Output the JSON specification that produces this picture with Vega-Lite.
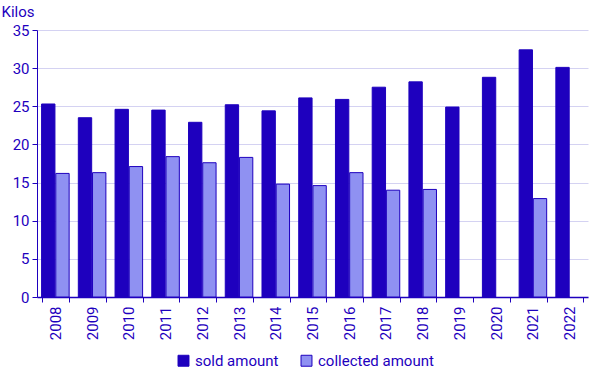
{
  "$schema": "https://vega.github.io/schema/vega-lite/v6.json",
  "width": 605,
  "height": 378,
  "autosize": {"type": "fit", "contains": "padding"},
  "padding": {"left": 1, "top": 4, "right": 17, "bottom": 38},
  "config": {
    "font": "Roboto",
    "view": {"stroke": null},
    "axis": {
      "labelColor": "#1e00be",
      "titleColor": "#1e00be",
      "domainColor": "#1e00be",
      "tickColor": "#1e00be",
      "labelFontSize": 15,
      "labelFont": "Roboto",
      "gridColor": "#d4d2f2",
      "gridWidth": 1
    }
  },
  "data": {
    "values": [
      {"year": "2008", "series": "sold amount", "value": 25.3},
      {"year": "2008", "series": "collected amount", "value": 16.2},
      {"year": "2009", "series": "sold amount", "value": 23.5},
      {"year": "2009", "series": "collected amount", "value": 16.3},
      {"year": "2010", "series": "sold amount", "value": 24.6},
      {"year": "2010", "series": "collected amount", "value": 17.1},
      {"year": "2011", "series": "sold amount", "value": 24.5},
      {"year": "2011", "series": "collected amount", "value": 18.4},
      {"year": "2012", "series": "sold amount", "value": 22.9},
      {"year": "2012", "series": "collected amount", "value": 17.6},
      {"year": "2013", "series": "sold amount", "value": 25.2},
      {"year": "2013", "series": "collected amount", "value": 18.3},
      {"year": "2014", "series": "sold amount", "value": 24.4},
      {"year": "2014", "series": "collected amount", "value": 14.8},
      {"year": "2015", "series": "sold amount", "value": 26.1},
      {"year": "2015", "series": "collected amount", "value": 14.6},
      {"year": "2016", "series": "sold amount", "value": 25.9},
      {"year": "2016", "series": "collected amount", "value": 16.3},
      {"year": "2017", "series": "sold amount", "value": 27.5},
      {"year": "2017", "series": "collected amount", "value": 14.0},
      {"year": "2018", "series": "sold amount", "value": 28.2},
      {"year": "2018", "series": "collected amount", "value": 14.1},
      {"year": "2019", "series": "sold amount", "value": 24.9},
      {"year": "2019", "series": "collected amount", "value": null},
      {"year": "2020", "series": "sold amount", "value": 28.8},
      {"year": "2020", "series": "collected amount", "value": null},
      {"year": "2021", "series": "sold amount", "value": 32.4},
      {"year": "2021", "series": "collected amount", "value": 12.9},
      {"year": "2022", "series": "sold amount", "value": 30.1},
      {"year": "2022", "series": "collected amount", "value": null}
    ]
  },
  "mark": {"type": "bar", "stroke": "#1e00be", "strokeWidth": 1},
  "encoding": {
    "x": {
      "field": "year",
      "type": "nominal",
      "scale": {"paddingInner": 0.25, "paddingOuter": 0.125},
      "axis": {
        "title": null,
        "labelAngle": -90,
        "labelAlign": "right",
        "labelBaseline": "middle",
        "tickBand": "extent",
        "tickSize": 5,
        "labelPadding": 4,
        "domainWidth": 1.5
      }
    },
    "xOffset": {
      "field": "series",
      "sort": ["sold amount", "collected amount"],
      "scale": {"paddingInner": 0.06}
    },
    "y": {
      "field": "value",
      "type": "quantitative",
      "scale": {"domain": [0, 35], "nice": false},
      "axis": {
        "values": [0, 5, 10, 15, 20, 25, 30, 35],
        "title": "Kilos",
        "titleAngle": 0,
        "titleAlign": "left",
        "titleBaseline": "alphabetic",
        "titleFontSize": 15,
        "titleFontWeight": "normal",
        "titleX": -36,
        "titleY": -14,
        "tickSize": 5,
        "labelPadding": 3,
        "domainWidth": 1,
        "grid": true
      }
    },
    "color": {
      "field": "series",
      "type": "nominal",
      "scale": {"domain": ["sold amount", "collected amount"], "range": ["#1e00be", "#8f91f2"]},
      "legend": {
        "orient": "none",
        "legendX": 139,
        "legendY": 323,
        "direction": "horizontal",
        "title": null,
        "symbolType": "square",
        "symbolSize": 120,
        "symbolStrokeColor": "#1e00be",
        "symbolStrokeWidth": 1,
        "labelFontSize": 15,
        "labelOffset": 4,
        "labelColor": "#1e00be",
        "columnPadding": 20
      }
    }
  }
}
